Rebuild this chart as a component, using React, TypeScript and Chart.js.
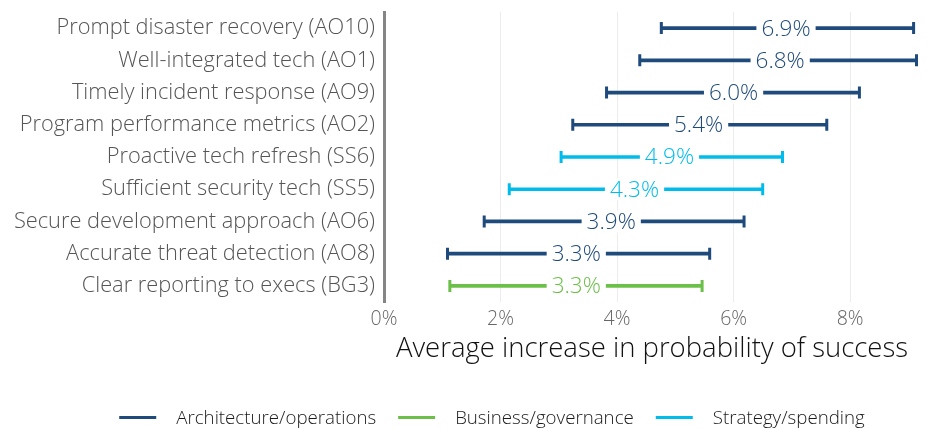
import React, { useEffect, useRef } from "react";
import { Chart, registerables } from "chart.js";

Chart.register(...registerables);

const categories = [
  "Prompt disaster recovery (AO10)",
  "Well-integrated tech (AO1)",
  "Timely incident response (AO9)",
  "Program performance metrics (AO2)",
  "Proactive tech refresh (SS6)",
  "Sufficient security tech (SS5)",
  "Secure development approach (AO6)",
  "Accurate threat detection (AO8)",
  "Clear reporting to execs (BG3)",
];
const lowValues = [4.76, 4.39, 3.82, 3.24, 3.04, 2.15, 1.72, 1.09, 1.13];
const highValues = [9.09, 9.14, 8.16, 7.6, 6.84, 6.5, 6.18, 5.59, 5.46];
const estimates = [6.9, 6.8, 6.0, 5.4, 4.9, 4.3, 3.9, 3.3, 3.3];
const rowGroups = [
  "Architecture/operations",
  "Architecture/operations",
  "Architecture/operations",
  "Architecture/operations",
  "Strategy/spending",
  "Strategy/spending",
  "Architecture/operations",
  "Architecture/operations",
  "Business/governance",
];
const groupNames = ["Architecture/operations", "Business/governance", "Strategy/spending"];
const groupColors = ["#1f4a7c", "#6cc04a", "#00bceb"];
const xTickValues = [0, 2, 4, 6, 8];
const xMax = 9.2;
const xTitle = "Average increase in probability of success";

const FONT = "'Open Sans', 'DejaVu Sans', sans-serif";

const errorBarPlugin = {
  id: "errorBarDecor",
  afterDatasetsDraw(chart: any) {
    const ctx = chart.ctx;
    const xScale = chart.scales.x;
    chart.data.datasets.forEach((ds: any, di: number) => {
      const meta = chart.getDatasetMeta(di);
      meta.data.forEach((el: any, i: number) => {
        if (ds.data[i] == null) return;
        const y = el.y;
        const x0 = el.base;
        const x1 = el.x;
        ctx.save();
        ctx.strokeStyle = ds.backgroundColor;
        ctx.lineWidth = 3;
        ctx.beginPath();
        ctx.moveTo(x0, y - 6);
        ctx.lineTo(x0, y + 6);
        ctx.moveTo(x1, y - 6);
        ctx.lineTo(x1, y + 6);
        ctx.stroke();
        const cx = xScale.getPixelForValue(estimates[i]);
        const text = estimates[i].toFixed(1) + "%";
        ctx.font = `300 22.5px ${FONT}`;
        const w = ctx.measureText(text).width;
        ctx.fillStyle = "#ffffff";
        ctx.fillRect(cx - w / 2 - 5, y - 11, w + 10, 22);
        ctx.fillStyle = ds.backgroundColor;
        ctx.textAlign = "center";
        ctx.textBaseline = "middle";
        ctx.fillText(text, cx, y + 1);
        ctx.restore();
      });
    });
  },
};

const legendPlugin = {
  id: "lineLegend",
  afterDraw(chart: any) {
    const ctx = chart.ctx;
    ctx.save();
    ctx.font = `300 18.7px ${FONT}`;
    const lineW = 37;
    const gap = 20;
    const itemGap = 22;
    const items = chart.data.datasets.map((ds: any) => ({
      label: ds.label,
      color: ds.backgroundColor,
      w: ctx.measureText(ds.label).width,
    }));
    const total =
      items.reduce((s: number, it: any) => s + lineW + gap + it.w, 0) + itemGap * (items.length - 1);
    let x = 492 - total / 2;
    const y = 417.5;
    items.forEach((it: any) => {
      ctx.strokeStyle = it.color;
      ctx.lineWidth = 3;
      ctx.beginPath();
      ctx.moveTo(x, y);
      ctx.lineTo(x + lineW, y);
      ctx.stroke();
      ctx.fillStyle = "#1a1a1a";
      ctx.textAlign = "left";
      ctx.textBaseline = "middle";
      ctx.fillText(it.label, x + lineW + gap, y + 1.5);
      x += lineW + gap + it.w + itemGap;
    });
    ctx.restore();
  },
};

export default function App() {
  const ref = useRef<HTMLCanvasElement | null>(null);
  useEffect(() => {
    if (!ref.current) return;
    Chart.defaults.font.family = FONT;
    const datasets = groupNames.map((g, gi) => ({
      label: g,
      data: categories.map((_, i) => (rowGroups[i] === g ? [lowValues[i], highValues[i]] : null)),
      backgroundColor: groupColors[gi],
      borderWidth: 0,
      barThickness: 3,
      grouped: false,
    }));
    const chart = new Chart(ref.current, {
      type: "bar",
      data: { labels: categories, datasets: datasets as any },
      plugins: [errorBarPlugin, legendPlugin],
      options: {
        animation: false,
        responsive: true,
        maintainAspectRatio: false,
        indexAxis: "y",
        layout: { padding: { top: 12, right: 10, left: 0, bottom: 55 } },
        plugins: {
          legend: { display: false },
          tooltip: { enabled: false },
        },
        scales: {
          x: {
            type: "linear",
            min: 0,
            max: xMax,
            afterBuildTicks(scale: any) {
              scale.ticks = xTickValues.map((v) => ({ value: v }));
            },
            afterFit(scale: any) {
              scale.height = 72;
            },
            grid: { color: "#ececec", lineWidth: 1, drawTicks: false },
            border: { display: false },
            ticks: {
              padding: 6,
              color: "#666666",
              font: { size: 19.5, weight: 300 as any },
              callback: (v: any) => v + "%",
            },
            title: {
              display: true,
              text: xTitle,
              color: "#111111",
              font: { size: 27.5, weight: 300 as any },
              padding: { top: 0, bottom: 8 },
            },
          },
          y: {
            afterFit(scale: any) {
              scale.width = 384;
              scale.paddingTop = 0;
              scale.paddingBottom = 0;
            },
            grid: { display: false, drawTicks: false },
            border: { display: true, color: "#858585", width: 3 },
            ticks: {
              padding: 9,
              color: "#555555",
              font: { size: 21.8, weight: 300 as any },
            },
          },
        },
      } as any,
    });
    return () => chart.destroy();
  }, []);
  return (
    <div style={{ position: "fixed", left: 0, top: 0, width: 930, height: 429, background: "#fff" }}>
      <canvas ref={ref} />
    </div>
  );
}
